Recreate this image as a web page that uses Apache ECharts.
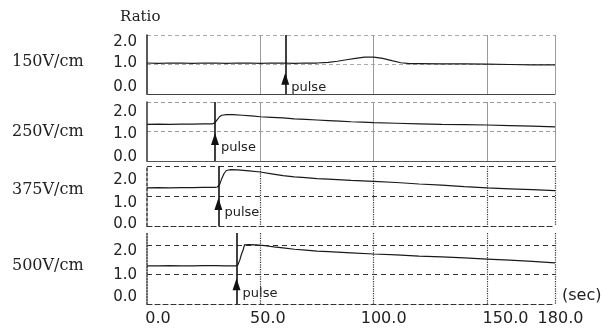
<!DOCTYPE html>
<html><head><meta charset="utf-8">
<script src="https://cdn.jsdelivr.net/npm/echarts@6/dist/echarts.min.js"></script>
<style>html,body{margin:0;padding:0;background:#fff}#c{width:605px;height:329px}</style>
</head><body><div id="c"></div>
<script>
// ---- data ----
const rowLabels = ['150V/cm', '250V/cm', '375V/cm', '500V/cm'];
const yTicks = [0, 1, 2];
const xTicks = [0, 50, 100, 150, 180];
const pulseTimes = [61, 30, 31.5, 39.5];

const t150 = [0,5,10,15,20,25,30,35,40,45,50,55,60,65,70,75,80,84,88,92,96,100,104,108,112,116,120,130,140,150,160,170,180];
const v150 = [1.05,1.04,1.05,1.05,1.04,1.05,1.05,1.04,1.05,1.05,1.04,1.05,1.05,1.04,1.05,1.05,1.07,1.11,1.16,1.21,1.25,1.25,1.21,1.13,1.06,1.03,1.03,1.02,1.02,1.01,1.00,0.99,0.99];

const t250 = [0,5,10,15,20,25,29,30,31,32,33,35,38,42,46,50,55,60,65,70,75,80,85,90,95,100,110,120,130,140,150,160,170,180];
const v250 = [1.24,1.25,1.24,1.25,1.25,1.26,1.26,1.30,1.40,1.50,1.55,1.57,1.57,1.55,1.53,1.50,1.48,1.46,1.43,1.41,1.39,1.37,1.35,1.33,1.32,1.30,1.28,1.26,1.24,1.23,1.22,1.20,1.18,1.16];

const t375 = [0,5,10,15,20,25,30,31,32,33,34,35,37,40,45,50,55,60,65,70,75,80,90,100,110,120,130,140,150,160,170,180];
const v375 = [1.27,1.28,1.27,1.28,1.28,1.29,1.29,1.30,1.38,1.58,1.75,1.85,1.88,1.87,1.84,1.80,1.74,1.68,1.64,1.61,1.58,1.56,1.52,1.49,1.45,1.40,1.36,1.31,1.27,1.24,1.21,1.18];

const t500 = [0,5,10,15,20,25,30,35,39,40,41,41.5,42,42.5,43,45,48,52,56,60,65,70,75,80,90,100,110,120,130,140,150,160,170,180];
const v500 = [1.29,1.29,1.30,1.29,1.29,1.30,1.30,1.29,1.29,1.31,1.50,1.64,1.66,1.85,2.00,2.01,2.00,1.97,1.93,1.90,1.85,1.82,1.79,1.77,1.73,1.69,1.66,1.62,1.59,1.56,1.52,1.48,1.44,1.39];

const seriesTimes = [t150, t250, t375, t500];
const seriesValues = [v150, v250, v375, v500];

// ---- layout / style ----
const panels = [
  {top: 35, height: 59, max: 2, arrowY: 0.52, yShift: [14, 3, 14], yDir: ['down','up','up'],
   vLine: {type:'solid', color:'#9a9a9a', width:1}, hLine: {type:[4,3], color:'#aaa', width:1},
   base: {type:'solid', color:'#444', width:1.2}, left: {type:'solid', color:'#222', width:1.5}},
  {top: 102, height: 59, max: 2, arrowY: 0.75, yShift: [20, 6, 8], yDir: ['down','down','up'],
   vLine: {type:'solid', color:'#9a9a9a', width:1}, hLine: {type:[4,3], color:'#999', width:1},
   base: {type:'solid', color:'#555', width:1.2}, left: {type:'solid', color:'#333', width:1.5}},
  {top: 166, height: 60, max: 2, arrowY: 0.73, yShift: [28, 14, 4], yDir: ['down','down','up'],
   vLine: {type:'dotted', color:'#333', width:1.2}, hLine: {type:[5,4], color:'#333', width:1},
   base: {type:[5,3], color:'#333', width:1.2}, left: {type:[3,2], color:'#333', width:1.5}},
  {top: 233, height: 71, max: 2.4, arrowY: 0.67, yShift: [12, 2, 14], yDir: ['down','down','up'],
   vLine: {type:'dotted', color:'#333', width:1.2}, hLine: {type:[5,4], color:'#333', width:1},
   base: {type:[5,3], color:'#333', width:1.2}, left: {type:'dotted', color:'#333', width:1.5}}
];

function pad(shift, dir) {
  return dir === 'down' ? [shift, 0, 0, 0] : [0, 0, shift, 0];
}

const grids = [], xAxes = [], yAxes = [], series = [], graphics = [];
panels.forEach((p, i) => {
  grids.push({left: 147, right: 50, top: p.top, height: p.height});
  const isLast = i === panels.length - 1;
  xAxes.push({
    gridIndex: i, type: 'value', min: 0, max: 180, interval: 50,
    axisLine: {show: true, lineStyle: p.base},
    axisTick: {show: false},
    splitLine: {show: true, showMinLine: false, lineStyle: p.vLine},
    axisLabel: isLast ? {
      show: true, showMaxLabel: true, showMinLabel: true, margin: 7,
      fontFamily: 'DejaVu Sans', fontSize: 16, color: '#222',
      formatter: v => '{x' + v + '|' + v.toFixed(1) + '}',
      rich: {
        x0: {padding: [0,0,0,22]}, x50: {padding: [0,0,0,15]},
        x100: {padding: [0,0,0,20]}, x150: {padding: [0,0,0,37]},
        x180: {padding: [0,0,0,11]}
      }
    } : {show: false}
  });
  const rich = {
    b: {padding: pad(p.yShift[2], p.yDir[2])},
    m: {padding: pad(p.yShift[1], p.yDir[1])},
    t: {padding: pad(p.yShift[0], p.yDir[0])}
  };
  yAxes.push({
    gridIndex: i, type: 'value', min: 0, max: p.max, interval: 1,
    axisLine: {show: true, lineStyle: p.left},
    axisTick: {show: false},
    splitLine: {show: true, showMinLine: false, showMaxLine: p.max === 2, lineStyle: p.hLine},
    axisLabel: {
      show: true, margin: 10, fontFamily: 'DejaVu Sans', fontSize: 15, color: '#222',
      formatter: v => {
        if (!yTicks.includes(v)) return '';
        const key = v === 0 ? 'b' : (v === 1 ? 'm' : 't');
        return '{' + key + '|' + v.toFixed(1) + '}';
      },
      rich: rich
    }
  });
  const data = seriesTimes[i].map((t, k) => [t, seriesValues[i][k]]);
  series.push({
    type: 'line', xAxisIndex: i, yAxisIndex: i, data: data,
    showSymbol: false, smooth: false,
    lineStyle: {color: '#1a1a1a', width: 1.2},
    markLine: {
      silent: true, symbol: ['none', 'none'], label: {show: false},
      lineStyle: {color: '#111', width: 1.6, type: 'solid'},
      data: [{xAxis: pulseTimes[i]}]
    },
    markPoint: {
      silent: true, symbol: 'triangle', symbolSize: [8, 12],
      itemStyle: {color: '#111'},
      label: {show: true, formatter: 'pulse', position: 'right', distance: 2, offset: [0, 9],
              fontFamily: 'DejaVu Sans', fontSize: 13, color: '#222'},
      data: [{coord: [pulseTimes[i], p.arrowY]}]
    }
  });
});

const rowY = [63, 133, 191, 267];
rowLabels.forEach((s, i) => {
  graphics.push({type: 'text', left: 12, top: rowY[i] - 9,
    style: {text: s, font: '16px "DejaVu Serif"', fill: '#222'}});
});
graphics.push({type: 'text', left: 120, top: 10, style: {text: 'Ratio', font: '15px "DejaVu Serif"', fill: '#222'}});
graphics.push({type: 'text', left: 562, top: 288, style: {text: '(sec)', font: '16px "DejaVu Sans"', fill: '#222'}});

const chart = echarts.init(document.getElementById('c'), null, {renderer: 'canvas'});
chart.setOption({
  animation: false,
  backgroundColor: '#fff',
  grid: grids, xAxis: xAxes, yAxis: yAxes, series: series, graphic: graphics
});
</script>
</body></html>
